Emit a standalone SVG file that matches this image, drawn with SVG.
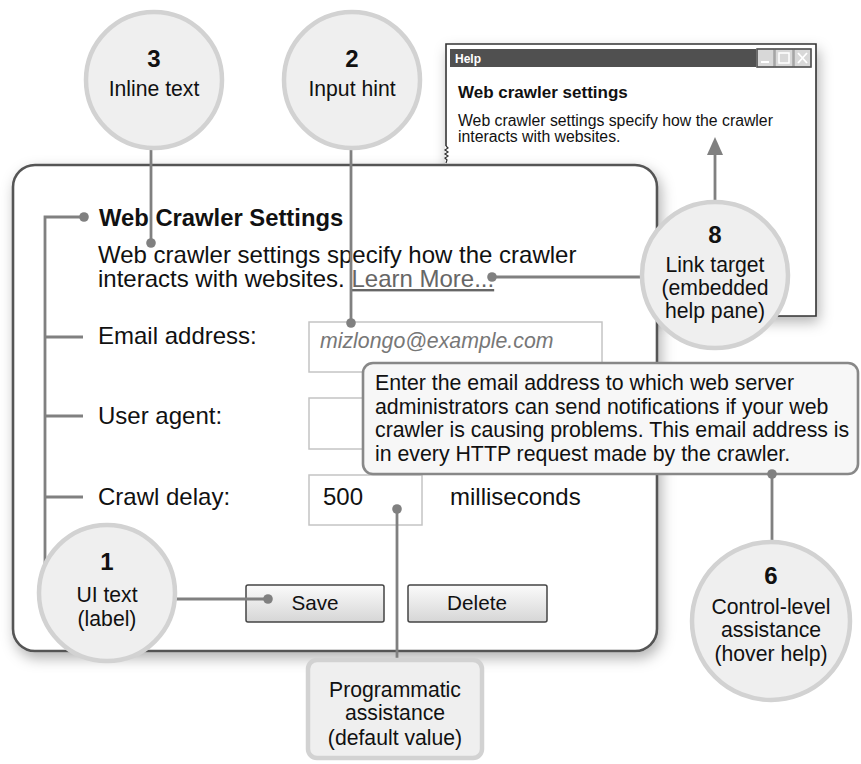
<svg xmlns="http://www.w3.org/2000/svg" width="861" height="764" viewBox="0 0 861 764">
  <defs>
    <filter id="shadow" x="-10%" y="-10%" width="125%" height="125%">
      <feDropShadow dx="3" dy="6" stdDeviation="7" flood-color="#000" flood-opacity="0.3"/>
    </filter>
    <linearGradient id="btn" x1="0" y1="0" x2="0" y2="1">
      <stop offset="0" stop-color="#fbfbfb"/>
      <stop offset="1" stop-color="#d6d6d6"/>
    </linearGradient>
    <style>
      text { font-family: "Liberation Sans", Arial, sans-serif; fill: #111; }
      .callout circle { fill: #efefef; stroke: #d2d2d2; stroke-width: 4.5; }
      .num { font-size: 24px; font-weight: bold; text-anchor: middle; }
      .lbl { font-size: 21.2px; text-anchor: middle; }
      .ui { font-size: 24px; }
      .tip { font-size: 21.3px; }
      .field { fill: #fff; stroke: #c4c4c4; stroke-width: 1.5; }
      .btn rect { fill: url(#btn); stroke: #444; stroke-width: 1.5; }
      .btn text { font-size: 20.7px; text-anchor: middle; }
      .conn line, .conn polyline { stroke: #808080; stroke-width: 2.8; fill: none; }
      .conn circle { fill: #808080; }
    </style>
  </defs>

  <!-- Help window, partly behind the settings panel -->
  <g id="help-window">
    <rect x="445" y="44" width="371" height="272" fill="#fff" filter="url(#shadow)"/>
    <path d="M446 146 L446 44 L816 44 L816 316 L640 316" fill="none" stroke="#333" stroke-width="1.6"/>
    <path d="M446 146 l2 2 l-3 2 l3 2 l-3 2 l3 2 l-3 2 l2 2 l-1 3" fill="none" stroke="#333" stroke-width="1.2"/>
    <rect x="450" y="49" width="306" height="18" fill="#505050"/>
    <text x="455" y="63" style="font-size:12px;font-weight:bold;fill:#fff">Help</text>
    <g stroke="#888" stroke-width="1" fill="#d8d8d8">
      <rect x="757" y="49" width="17" height="18"/>
      <rect x="775" y="49" width="18" height="18"/>
      <rect x="794" y="49" width="17" height="18"/>
    </g>
    <rect x="757" y="49" width="54" height="18" fill="none" stroke="#505050" stroke-width="1.5"/>
    <line x1="761" y1="62" x2="769" y2="62" stroke="#fff" stroke-width="2"/>
    <rect x="779" y="53" width="10" height="10" fill="none" stroke="#fff" stroke-width="1.5"/>
    <path d="M798 53 L807 63 M807 53 L798 63" stroke="#fff" stroke-width="1.8"/>
    <text x="458" y="98" style="font-size:17px;font-weight:bold">Web crawler settings</text>
    <text x="458" y="126" style="font-size:15.8px">Web crawler settings specify how the crawler</text>
    <text x="458" y="142" style="font-size:15.8px">interacts with websites.</text>
  </g>

  <!-- Settings panel -->
  <g id="settings-panel">
    <rect x="13" y="165" width="644" height="486" rx="22" fill="#fff" stroke="#555" stroke-width="2.6" filter="url(#shadow)"/>
    <text x="99" y="226" class="ui" style="font-weight:bold;font-size:23.8px">Web Crawler Settings</text>
    <text x="98" y="263" class="ui">Web crawler settings specify how the crawler</text>
    <text x="98" y="287" class="ui">interacts with websites. <tspan style="fill:#666;text-decoration:underline">Learn More...</tspan></text>

    <text x="98" y="344" class="ui">Email address:</text>
    <rect x="309" y="322" width="293" height="50" class="field"/>
    <text x="320" y="348" style="font-size:21.3px;font-style:italic;fill:#777">mizlongo@example.com</text>

    <text x="98" y="424" class="ui">User agent:</text>
    <rect x="309" y="398" width="293" height="51" class="field"/>

    <text x="98" y="505" class="ui">Crawl delay:</text>
    <rect x="309" y="475" width="113" height="50" class="field"/>
    <text x="323" y="505" class="ui">500</text>
    <text x="450" y="505" class="ui">milliseconds</text>

    <g id="btn-save" class="btn">
      <rect x="246" y="585" width="138" height="37" rx="2"/>
      <text x="315" y="610">Save</text>
    </g>
    <g id="btn-delete" class="btn">
      <rect x="408" y="585" width="139" height="37" rx="2"/>
      <text x="477" y="610">Delete</text>
    </g>
  </g>

  <!-- Hover help tooltip -->
  <g id="tooltip">
    <rect x="363" y="363" width="495" height="111" rx="10" fill="#f7f7f7" stroke="#888" stroke-width="2.6"/>
    <text x="375" y="390" class="tip">Enter the email address to which web server</text>
    <text x="375" y="414" class="tip">administrators can send notifications if your web</text>
    <text x="375" y="437" class="tip">crawler is causing problems. This email address is</text>
    <text x="375" y="461" class="tip">in every HTTP request made by the crawler.</text>
  </g>

  <!-- Connectors -->
  <g id="connectors" class="conn">
    <!-- 1: labels bracket -->
    <polyline points="84,217 45,217 45,565"/>
    <line x1="45" y1="337" x2="83" y2="337"/>
    <line x1="45" y1="416" x2="83" y2="416"/>
    <line x1="45" y1="497" x2="83" y2="497"/>
    <circle cx="84" cy="217" r="4.8"/>
    <line x1="170" y1="599" x2="268" y2="599"/>
    <circle cx="268" cy="599" r="4.8"/>
    <!-- 3: inline text -->
    <line x1="151" y1="148" x2="151" y2="243"/>
    <circle cx="151" cy="243" r="4.8"/>
    <!-- 2: input hint -->
    <line x1="351" y1="148" x2="351" y2="323"/>
    <circle cx="351" cy="323" r="4.8"/>
    <!-- 8: link target -->
    <line x1="492" y1="277" x2="645" y2="277"/>
    <circle cx="492" cy="277" r="4.8"/>
    <line x1="715" y1="152" x2="715" y2="205"/>
    <polygon points="715,137 707,155 723,155" fill="#808080"/>
    <!-- 6: hover help -->
    <line x1="772" y1="474" x2="772" y2="545"/>
    <circle cx="772" cy="474" r="4.8"/>
    <!-- programmatic assistance -->
    <line x1="397" y1="509" x2="397" y2="662"/>
    <circle cx="397" cy="509" r="4.8"/>
  </g>

  <!-- Numbered callouts -->
  <g id="callout-3" class="callout">
    <circle cx="154" cy="80" r="68"/>
    <text x="154" y="67" class="num">3</text>
    <text x="154" y="96" class="lbl">Inline text</text>
  </g>
  <g id="callout-2" class="callout">
    <circle cx="352" cy="80" r="68"/>
    <text x="352" y="67" class="num">2</text>
    <text x="352" y="96" class="lbl">Input hint</text>
  </g>
  <g id="callout-8" class="callout">
    <circle cx="715" cy="275" r="73"/>
    <text x="715" y="243" class="num">8</text>
    <text x="715" y="272" class="lbl">Link target</text>
    <text x="715" y="295" class="lbl">(embedded</text>
    <text x="715" y="318" class="lbl">help pane)</text>
  </g>
  <g id="callout-1" class="callout">
    <circle cx="107" cy="593" r="68"/>
    <text x="107" y="570" class="num">1</text>
    <text x="107" y="602" class="lbl">UI text</text>
    <text x="107" y="626" class="lbl">(label)</text>
  </g>
  <g id="callout-6" class="callout">
    <circle cx="771" cy="621" r="79"/>
    <text x="771" y="584" class="num">6</text>
    <text x="771" y="614" class="lbl">Control-level</text>
    <text x="771" y="637" class="lbl">assistance</text>
    <text x="771" y="661" class="lbl">(hover help)</text>
  </g>
  <g id="programmatic">
    <rect x="308" y="660" width="174" height="98" rx="9" fill="#efefef" stroke="#d2d2d2" stroke-width="4.5"/>
    <text x="395" y="697" class="lbl">Programmatic</text>
    <text x="395" y="720" class="lbl">assistance</text>
    <text x="395" y="745" class="lbl">(default value)</text>
  </g>
</svg>
